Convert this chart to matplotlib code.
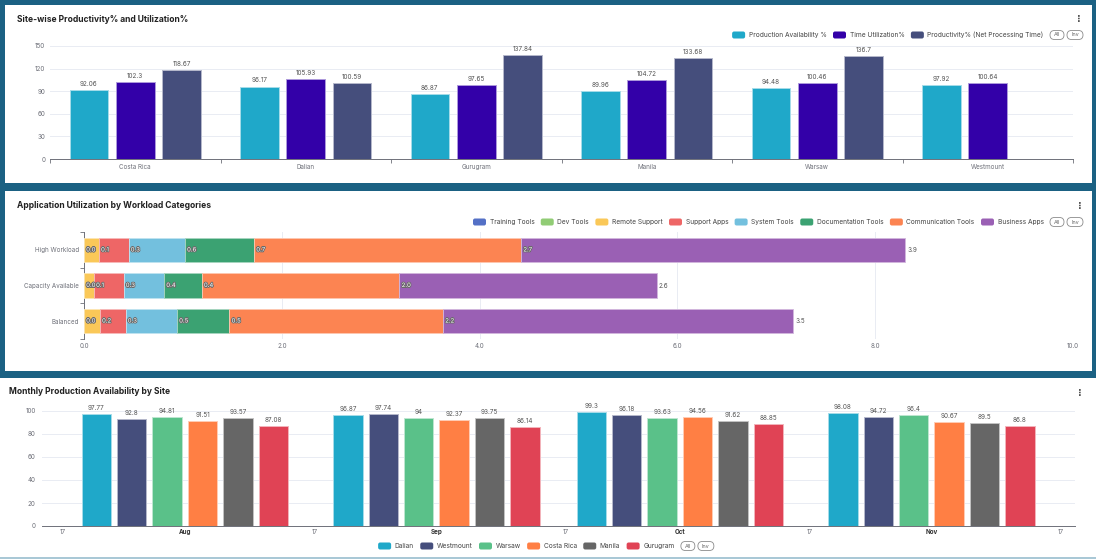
import matplotlib
matplotlib.use('Agg')
import matplotlib.pyplot as plt
import matplotlib.transforms as mtransforms
import matplotlib.patheffects as pe
import matplotlib.dates as mdates
from matplotlib.patches import Rectangle, FancyBboxPatch
from matplotlib.colors import to_rgb
import numpy as np
import datetime as dt

# ---------------- data ----------------
sites = ['Costa Rica', 'Dalian', 'Gurugram', 'Manila', 'Warsaw', 'Westmount']
chart1_series = ['Production Availability %', 'Time Utilization%',
                 'Productivity% (Net Processing Time)']
production_availability = [92.06, 96.17, 86.87, 89.96, 94.48, 97.92]
time_utilization = [102.3, 105.93, 97.65, 104.72, 100.46, 100.64]
productivity_net = [118.67, 100.59, 137.84, 133.68, 136.7, np.nan]
chart1_yticks = [0, 30, 60, 90, 120, 150]

workload_categories = ['Balanced', 'Capacity Available', 'High Workload']
app_categories = ['Training Tools', 'Dev Tools', 'Remote Support', 'Support Apps',
                  'System Tools', 'Documentation Tools', 'Communication Tools',
                  'Business Apps']
training_tools = [0.0, 0.0, 0.0]
dev_tools = [0.0, 0.0, 0.0]
remote_support = [0.16, 0.10, 0.15]
support_apps = [0.26, 0.30, 0.30]
system_tools = [0.52, 0.41, 0.57]
documentation_tools = [0.53, 0.38, 0.70]
communication_tools = [2.16, 2.00, 2.70]
business_apps = [3.54, 2.60, 3.88]
chart2_xticks = [0, 2, 4, 6, 8, 10]

month_starts = ['2024-08-01', '2024-09-01', '2024-10-01', '2024-11-01']
month_labels = ['Aug', 'Sep', 'Oct', 'Nov']
mid_month_ticks = ['2024-07-17', '2024-08-17', '2024-09-17', '2024-10-17', '2024-11-17']
chart3_sites = ['Dalian', 'Westmount', 'Warsaw', 'Costa Rica', 'Manila', 'Gurugram']
dalian = [97.77, 96.87, 99.3, 98.08]
westmount = [92.8, 97.74, 96.18, 94.72]
warsaw = [94.81, 94, 93.63, 96.4]
costa_rica = [91.51, 92.37, 94.56, 90.67]
manila = [93.57, 93.75, 91.62, 89.5]
gurugram = [87.08, 86.14, 88.85, 86.8]
chart3_yticks = [0, 20, 40, 60, 80, 100]

# ---------------- style ----------------
W, H = 1096, 559
BORDER = '#1b6183'
AXC = '#6e7079'
GRID = '#e9ecf3'
TITLE_C = '#222222'
FONT = 'Inter'
plt.rcParams['font.family'] = [FONT, 'DejaVu Sans']
TICK_FS = 4.5
VAL_FS = 4.6
LEG_FS = 4.75
TITLE_FS = 6.1

c1 = ['#1fa8c9', '#3300a8', '#454e7c']
c2 = ['#5470c6', '#91cc75', '#fac858', '#ee6666', '#73c0de', '#3ba272', '#fc8452', '#9a60b4']
c3 = ['#1fa8c9', '#454e7c', '#5ac189', '#ff7f44', '#666666', '#e04355']


def tint(c, f=0.5):
    r, g, b = to_rgb(c)
    return (r + (1 - r) * f, g + (1 - g) * f, b + (1 - b) * f)


fig = plt.figure(figsize=(W / 100, H / 100), dpi=100, facecolor=BORDER)
PX = mtransforms.Affine2D().scale(1 / W, -1 / H).translate(0, 1) + fig.transFigure
renderer = fig.canvas.get_renderer()


def ax_at(l, t, r, b):
    ax = fig.add_axes([l / W, 1 - b / H, (r - l) / W, (b - t) / H])
    ax.set_facecolor('none')
    for s in ax.spines.values():
        s.set_visible(False)
    return ax


# panels
fig.add_artist(Rectangle((5, 5), 1087, 178, transform=PX, fc='white', ec='none', zorder=-5))
fig.add_artist(Rectangle((5, 191), 1087, 180, transform=PX, fc='white', ec='none', zorder=-5))
fig.add_artist(Rectangle((0, 378), 1096, 179, transform=PX, fc='white', ec='none', zorder=-5))
fig.add_artist(Rectangle((0, 557), 1096, 2, transform=PX, fc='#a9c8d6', ec='none', zorder=-5))


def text_w(s, fs):
    t = fig.text(0, 0, s, fontsize=fs)
    w = t.get_window_extent(renderer).width
    t.remove()
    return w


def legend_row(items, y, right=None, center=None, fs=LEG_FS):
    box_w, box_h = 13, 7
    gap_t, gap_i = 3.5, 6.5
    pills = [('All', 14), ('Inv', 16)]
    widths = [text_w(lbl, fs) for lbl, _ in items]
    total = sum(box_w + gap_t + w + gap_i for w in widths) + pills[0][1] + 3 + pills[1][1]
    x = (right - total) if right is not None else (center - total / 2)
    for (lbl, col), w in zip(items, widths):
        fig.add_artist(FancyBboxPatch((x, y - box_h / 2), box_w, box_h,
                                      boxstyle='round,pad=0,rounding_size=2',
                                      transform=PX, fc=col, ec='none'))
        fig.text(x + box_w + gap_t, y, lbl, transform=PX, fontsize=fs, color='#444',
                 va='center', ha='left')
        x += box_w + gap_t + w + gap_i
    for s, pw in pills:
        fig.add_artist(FancyBboxPatch((x, y - 4.5), pw, 9,
                                      boxstyle='round,pad=0,rounding_size=4.5',
                                      transform=PX, fc='white', ec='#8a8a8a', lw=0.6))
        fig.text(x + pw / 2, y, s, transform=PX, fontsize=fs - 0.8, color='#666',
                 ha='center', va='center')
        x += pw + 3


def title(x, y, s):
    fig.text(x, y, s, transform=PX, fontsize=TITLE_FS, weight='bold', color=TITLE_C,
             va='center', ha='left')


def menu(x, y):
    fig.text(x, y, '\u22ee', transform=PX, fontsize=7, color='#555', ha='center',
             va='center', family='DejaVu Sans', weight='bold')


# ================= Chart 1 =================
title(17, 19, 'Site-wise Productivity% and Utilization%')
menu(1079, 19)
legend_row(list(zip(chart1_series, c1)), 35, right=1083)

ax1 = ax_at(50, 46, 1073, 159)
x = np.arange(len(sites))
slot, bw = 0.272, 0.226
for j, (vals, col) in enumerate(zip([production_availability, time_utilization,
                                      productivity_net], c1)):
    vals = np.array(vals, dtype=float)
    bars = ax1.bar(x + (j - 1) * slot, vals, width=bw, color=col, ec=tint(col, 0.6),
                   lw=0.7, zorder=3)
    labels = ['' if np.isnan(v) else f'{v:g}' for v in vals]
    ax1.bar_label(bars, labels=labels, padding=2.2, fontsize=VAL_FS, color='#555')
ax1.set_xlim(-0.5, len(sites) - 0.5)
ax1.set_ylim(0, 150)
ax1.set_yticks(chart1_yticks)
ax1.set_yticklabels([str(v) for v in chart1_yticks])
ax1.tick_params(axis='y', length=0, pad=3.5, labelsize=TICK_FS, labelcolor=AXC)
ax1.set_xticks(np.arange(len(sites) + 1) - 0.5)
ax1.set_xticklabels([])
ax1.set_xticks(x, minor=True)
ax1.set_xticklabels(sites, minor=True)
ax1.tick_params(axis='x', which='major', length=3, width=0.6, color=AXC, direction='out')
ax1.tick_params(axis='x', which='minor', length=0, pad=3.5, labelsize=TICK_FS,
                labelcolor=AXC)
ax1.spines['bottom'].set_visible(True)
ax1.spines['bottom'].set_color(AXC)
ax1.spines['bottom'].set_linewidth(0.7)
ax1.yaxis.grid(True, color=GRID, lw=0.7, zorder=0)
ax1.set_axisbelow(True)

# ================= Chart 2 =================
title(17, 206, 'Application Utilization by Workload Categories')
menu(1080, 206)
legend_row(list(zip(app_categories, c2)), 222, right=1083)

ax2 = ax_at(84, 232.2, 1073, 338.8)
y = np.arange(len(workload_categories))
series2 = [training_tools, dev_tools, remote_support, support_apps, system_tools,
           documentation_tools, communication_tools, business_apps]
left = np.zeros(len(workload_categories))
ends = []
for vals, col in zip(series2, c2):
    vals = np.array(vals, dtype=float)
    ax2.barh(y, vals, left=left, height=0.68, color=col, ec=tint(col, 0.55), lw=0.6,
             zorder=3)
    left = left + vals
    ends.append((left.copy(), vals))
lab_off = mtransforms.offset_copy(ax2.transData, fig=fig, x=2.2, y=0, units='dots')
for k, (end, vals) in enumerate(ends):
    last = k == len(ends) - 1
    for i in range(len(y)):
        if last:
            ax2.text(end[i], y[i], f'{vals[i]:.1f}', transform=lab_off, fontsize=VAL_FS,
                     color='#555', va='center', ha='left', zorder=5)
        else:
            ax2.text(end[i], y[i], f'{vals[i]:.1f}', transform=lab_off, fontsize=4.3,
                     color='white', va='center', ha='left', zorder=5,
                     path_effects=[pe.withStroke(linewidth=1.3, foreground='#6a6a6a')])
ax2.set_xlim(0, 10)
ax2.set_ylim(-0.5, len(workload_categories) - 0.5)
ax2.set_xticks(chart2_xticks)
ax2.set_xticklabels([f'{v:.1f}' for v in chart2_xticks])
ax2.tick_params(axis='x', length=0, pad=3.0, labelsize=TICK_FS, labelcolor=AXC)
ax2.set_yticks(np.arange(len(workload_categories) + 1) - 0.5)
ax2.set_yticklabels([])
ax2.set_yticks(y, minor=True)
ax2.set_yticklabels(workload_categories, minor=True)
ax2.tick_params(axis='y', which='major', length=3, width=0.6, color=AXC)
ax2.tick_params(axis='y', which='minor', length=0, pad=3.5, labelsize=TICK_FS,
                labelcolor=AXC)
ax2.spines['left'].set_visible(True)
ax2.spines['left'].set_color(AXC)
ax2.spines['left'].set_linewidth(0.7)
ax2.xaxis.grid(True, color=GRID, lw=0.7, zorder=0)
ax2.set_axisbelow(True)

# ================= Chart 3 =================
title(9, 392, 'Monthly Production Availability by Site')
menu(1080, 393)
legend_row(list(zip(chart3_sites, c3)), 546, center=546)

ax3 = ax_at(42, 411, 1075, 526)
mpos = mdates.date2num([dt.date.fromisoformat(d) for d in month_starts])
midpos = mdates.date2num([dt.date.fromisoformat(d) for d in mid_month_ticks])
slot3, bw3 = 4.36, 3.62
series3 = [dalian, westmount, warsaw, costa_rica, manila, gurugram]
for j, (vals, col) in enumerate(zip(series3, c3)):
    bars = ax3.bar(mpos + (j - 2.5) * slot3, vals, width=bw3, color=col,
                   ec=tint(col, 0.6), lw=0.7, zorder=3)
    ax3.bar_label(bars, labels=[f'{v:g}' for v in vals], padding=2.2, fontsize=VAL_FS,
                  color='#555')
ax3.set_xlim(midpos[0] - 2.6, midpos[-1] + 1.7)
ax3.set_ylim(0, 100)
ax3.set_yticks(chart3_yticks)
ax3.set_yticklabels([str(v) for v in chart3_yticks])
ax3.tick_params(axis='y', length=0, pad=4.5, labelsize=TICK_FS, labelcolor=AXC)
tick_pos = list(midpos) + list(mpos)
tick_lab = ['17'] * len(midpos) + month_labels
order = np.argsort(tick_pos)
ax3.set_xticks(np.array(tick_pos)[order])
ax3.set_xticklabels(np.array(tick_lab)[order])
ax3.tick_params(axis='x', length=0, width=0.6, color=AXC, pad=2.0, labelsize=TICK_FS,
                labelcolor=AXC)
for t in ax3.get_xticklabels():
    if t.get_text() in month_labels:
        t.set_fontweight('bold')
        t.set_color('#333')
ax3.spines['bottom'].set_visible(True)
ax3.spines['bottom'].set_color(AXC)
ax3.spines['bottom'].set_linewidth(0.7)
ax3.yaxis.grid(True, color=GRID, lw=0.7, zorder=0)
ax3.set_axisbelow(True)

fig.savefig('out.png', dpi=100, facecolor=BORDER)
